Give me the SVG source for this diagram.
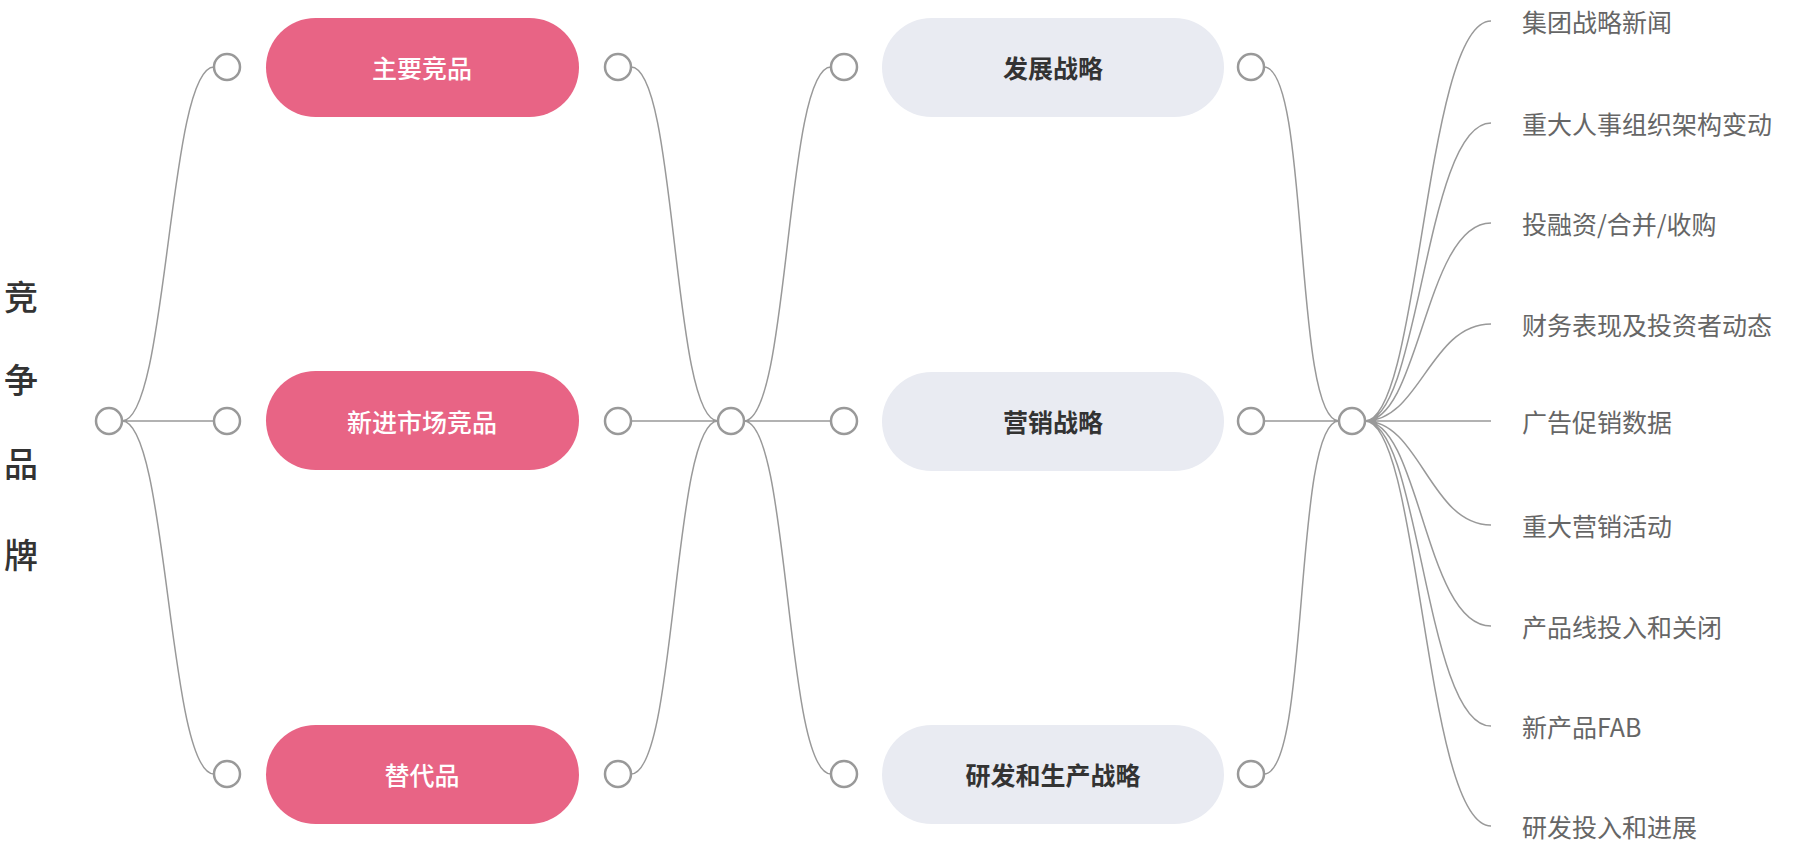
<svg xmlns="http://www.w3.org/2000/svg" width="1804" height="848" viewBox="0 0 1804 848">
<style>
.c{fill:#fff;stroke:#999;stroke-width:2.5}
.l{fill:none;stroke:#999;stroke-width:1.5}
.p{fill:#E86485}
.g{fill:#E9EBF2}
.tw{font-family:"Noto Sans CJK SC",sans-serif;font-size:25px;fill:#fff;text-anchor:middle;dominant-baseline:central;font-weight:500}
.tg{font-family:"Noto Sans CJK SC",sans-serif;font-size:25px;fill:#333;text-anchor:middle;dominant-baseline:central;font-weight:700}
.tl{font-family:"Noto Sans CJK SC",sans-serif;font-size:25px;fill:#666;dominant-baseline:central}
.tr{font-family:"Noto Sans CJK SC",sans-serif;font-size:34px;fill:#333;text-anchor:middle;dominant-baseline:central;font-weight:500}
</style>
<g id="connectors">
<path class="l" d="M122,421 C168,421 168,67 214,67 M122,421 H214 M122,421 C168,421 168,774 214,774"/>
<path class="l" d="M631,67 C677,67 672,421 718,421 M631,421 H718 M631,774 C677,774 672,421 718,421"/>
<path class="l" d="M744,421 C790,421 785,67 831,67 M744,421 H831 M744,421 C790,421 785,774 831,774"/>
<path class="l" d="M1264,67 C1310,67 1293,421 1339,421 M1264,421 H1339 M1264,774 C1310,774 1293,421 1339,421"/>
<path class="l" d="M1365,421 C1420,421 1425,21 1491,21 M1365,421 C1420,421 1425,123 1491,123 M1365,421 C1420,421 1425,223 1491,223 M1365,421 C1420,421 1430,324 1491,324 M1365,421 H1491 M1365,421 C1420,421 1430,525 1491,525 M1365,421 C1420,421 1425,626 1491,626 M1365,421 C1420,421 1425,726 1491,726 M1365,421 C1420,421 1425,826 1491,826"/>
</g>
<g id="root"><text class="tr" x="21" y="295">竞</text><text class="tr" x="21" y="378">争</text><text class="tr" x="21" y="462">品</text><text class="tr" x="21" y="553">牌</text><circle class="c" cx="109" cy="421" r="13"/></g>
<g id="n1"><circle class="c" cx="227" cy="67" r="13"/><rect class="p" x="266" y="18" width="313" height="99" rx="49.5"/><text class="tw" x="422" y="67">主要竞品</text><circle class="c" cx="618" cy="67" r="13"/></g>
<g id="n2"><circle class="c" cx="227" cy="421" r="13"/><rect class="p" x="266" y="371" width="313" height="99" rx="49.5"/><text class="tw" x="422" y="421">新进市场竞品</text><circle class="c" cx="618" cy="421" r="13"/></g>
<g id="n3"><circle class="c" cx="227" cy="774" r="13"/><rect class="p" x="266" y="725" width="313" height="99" rx="49.5"/><text class="tw" x="422" y="774">替代品</text><circle class="c" cx="618" cy="774" r="13"/></g>
<g id="hub1"><circle class="c" cx="731" cy="421" r="13"/></g>
<g id="s1"><circle class="c" cx="844" cy="67" r="13"/><rect class="g" x="882" y="18" width="342" height="99" rx="49.5"/><text class="tg" x="1053" y="67">发展战略</text><circle class="c" cx="1251" cy="67" r="13"/></g>
<g id="s2"><circle class="c" cx="844" cy="421" r="13"/><rect class="g" x="882" y="372" width="342" height="99" rx="49.5"/><text class="tg" x="1053" y="421">营销战略</text><circle class="c" cx="1251" cy="421" r="13"/></g>
<g id="s3"><circle class="c" cx="844" cy="774" r="13"/><rect class="g" x="882" y="725" width="342" height="99" rx="49.5"/><text class="tg" x="1053" y="774">研发和生产战略</text><circle class="c" cx="1251" cy="774" r="13"/></g>
<g id="hub2"><circle class="c" cx="1352" cy="421" r="13"/></g>
<g id="leaves">
<text class="tl" x="1522" y="21">集团战略新闻</text>
<text class="tl" x="1522" y="123">重大人事组织架构变动</text>
<text class="tl" x="1522" y="223">投融资/合并/收购</text>
<text class="tl" x="1522" y="324">财务表现及投资者动态</text>
<text class="tl" x="1522" y="421">广告促销数据</text>
<text class="tl" x="1522" y="525">重大营销活动</text>
<text class="tl" x="1522" y="626">产品线投入和关闭</text>
<text class="tl" x="1522" y="726">新产品FAB</text>
<text class="tl" x="1522" y="826">研发投入和进展</text>
</g>
</svg>
